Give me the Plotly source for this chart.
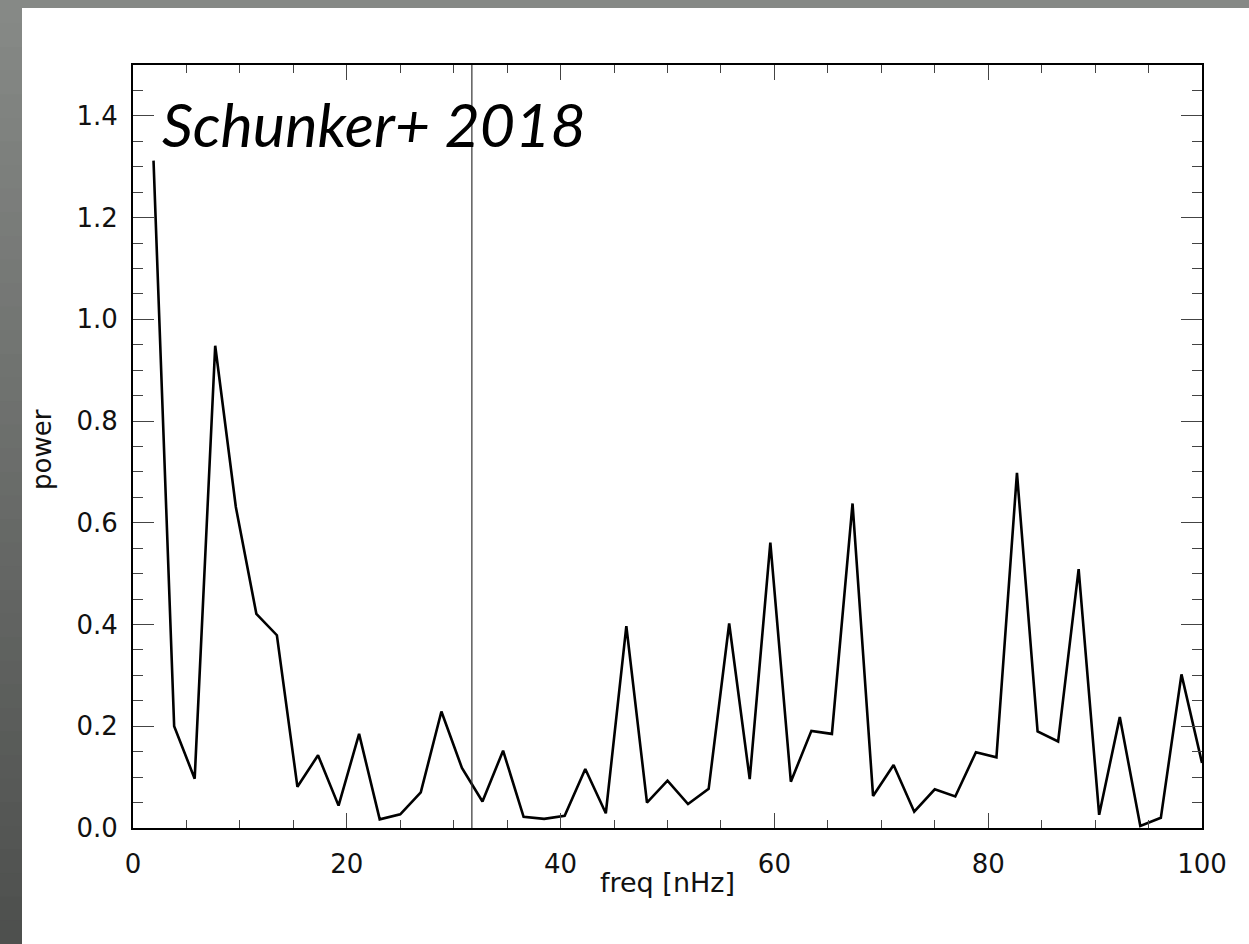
import plotly.graph_objects as go

# ---- data ----
freq_nhz = [1.92, 3.85, 5.77, 7.69, 9.62, 11.54, 13.46, 15.38, 17.31, 19.23,
            21.15, 23.08, 25.00, 26.92, 28.85, 30.77, 32.69, 34.62, 36.54, 38.46,
            40.38, 42.31, 44.23, 46.15, 48.08, 50.00, 51.92, 53.85, 55.77, 57.69,
            59.62, 61.54, 63.46, 65.38, 67.31, 69.23, 71.15, 73.08, 75.00, 76.92,
            78.85, 80.77, 82.69, 84.62, 86.54, 88.46, 90.38, 92.31, 94.23, 96.15,
            98.08, 100.00]
power = [1.312, 0.200, 0.097, 0.948, 0.631, 0.421, 0.379, 0.081, 0.143, 0.044,
         0.185, 0.017, 0.027, 0.070, 0.229, 0.118, 0.052, 0.152, 0.022, 0.018,
         0.024, 0.116, 0.029, 0.397, 0.050, 0.093, 0.047, 0.077, 0.402, 0.096,
         0.561, 0.091, 0.191, 0.185, 0.638, 0.063, 0.124, 0.032, 0.076, 0.062,
         0.149, 0.139, 0.698, 0.190, 0.170, 0.509, 0.026, 0.218, 0.004, 0.020,
         0.302, 0.128]
one_year_freq = 31.7
x_ticks = [0, 20, 40, 60, 80, 100]
y_ticks = [0.0, 0.2, 0.4, 0.6, 0.8, 1.0, 1.2, 1.4]
x_range = [0, 100]
y_range = [0, 1.5]
label_text = "Schunker+ 2018"
x_title = "freq [nHz]"
y_title = "power"

# ---- layout geometry ----
W, H = 1249, 944
ML, MR, MT, MB = 133, 47, 65, 116
PW, PH = W - ML - MR, H - MT - MB

def px_x(p):
    return (p - ML) / PW

def px_y(p):
    return (H - MB - p) / PH

FONT = "Lato, 'Open Sans', sans-serif"
AXFONT = "'DejaVu Sans', Verdana, sans-serif"

fig = go.Figure()
fig.add_trace(go.Scatter(x=freq_nhz, y=power, mode="lines",
                         line=dict(color="black", width=2.6), showlegend=False,
                         hoverinfo="x+y"))
fig.add_trace(go.Scatter(x=[one_year_freq, one_year_freq], y=y_range, mode="lines",
                         line=dict(color="#333333", width=1.2), showlegend=False,
                         hoverinfo="skip"))

shapes = []
# top gray strip
shapes.append(dict(type="rect", xref="paper", yref="paper",
                   x0=px_x(0), x1=px_x(W), y0=px_y(8), y1=px_y(0),
                   fillcolor="#868986", line=dict(width=0), layer="below"))
# left gray strip with vertical gradient (banded)
n = 40
c_top = (134, 137, 134)
c_bot = (78, 80, 78)
for i in range(n):
    t = i / (n - 1)
    c = tuple(int(round(a + (b - a) * t)) for a, b in zip(c_top, c_bot))
    y0p = i * H / n
    y1p = (i + 1) * H / n + 1
    shapes.append(dict(type="rect", xref="paper", yref="paper",
                       x0=px_x(0), x1=px_x(22), y0=px_y(y1p), y1=px_y(y0p),
                       fillcolor="rgb(%d,%d,%d)" % c, line=dict(width=0), layer="below"))

tickfont = dict(size=26, family=AXFONT, color="#111")

fig.update_layout(
    width=W, height=H,
    margin=dict(l=ML, r=MR, t=MT, b=MB, pad=0),
    paper_bgcolor="white", plot_bgcolor="white",
    shapes=shapes,
    font=dict(family=AXFONT, color="black"),
    xaxis=dict(range=x_range, tickvals=x_ticks, ticks="inside", ticklen=15, tickwidth=1.3,
               tickcolor="#444", showline=True, linecolor="black", linewidth=2, mirror="ticks",
               showgrid=False, zeroline=False, tickfont=tickfont, ticklabelstandoff=12,
               minor=dict(ticks="inside", ticklen=8, dtick=5, tickwidth=1.3, tickcolor="#444", showgrid=False)),
    yaxis=dict(range=y_range, tickvals=y_ticks, tickformat=".1f", ticks="inside", ticklen=21,
               tickwidth=1.3, tickcolor="#444", showline=True, linecolor="black", linewidth=2,
               mirror="ticks", showgrid=False, zeroline=False, tickfont=tickfont, ticklabelstandoff=8,
               minor=dict(ticks="inside", ticklen=10, dtick=0.05, tickwidth=1.3, tickcolor="#444", showgrid=False)),
    annotations=[
        dict(text="<i>" + label_text + "</i>", xref="paper", yref="paper",
             x=px_x(160), y=px_y(124), xanchor="left", yanchor="middle",
             showarrow=False, font=dict(size=61, family=FONT, color="black")),
        dict(text=x_title, xref="paper", yref="paper",
             x=px_x(667), y=px_y(882), xanchor="center", yanchor="middle",
             showarrow=False, font=dict(size=27, family=AXFONT, color="#111")),
        dict(text=y_title, xref="paper", yref="paper", textangle=-90,
             x=px_x(42), y=px_y(450), xanchor="center", yanchor="middle",
             showarrow=False, font=dict(size=26, family=AXFONT, color="#111")),
    ],
)

fig.write_html("out.html")
